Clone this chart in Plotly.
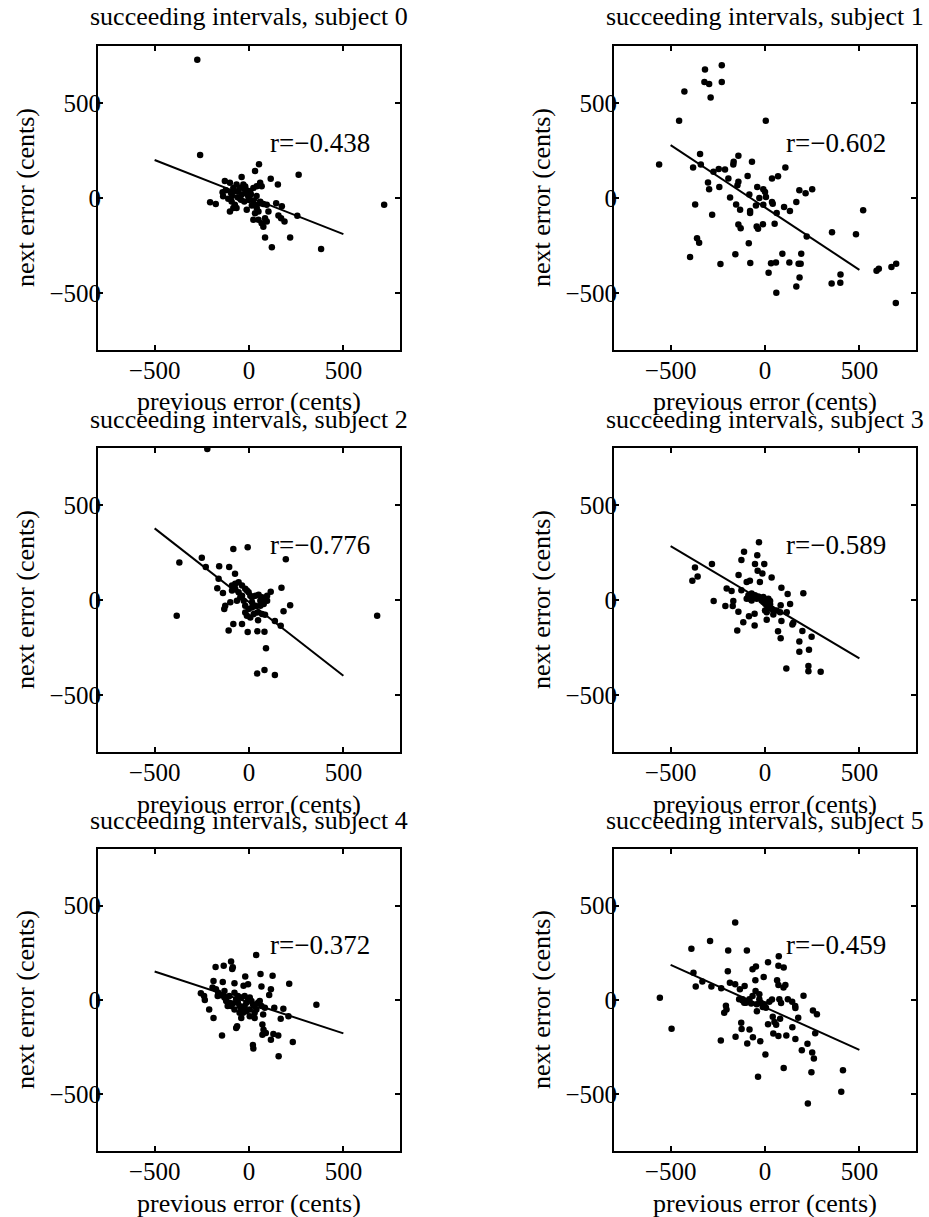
import plotly.graph_objects as go

# ---------------- data (previous error, next error) in cents ----------------
subject0 = [(-274, 728), (-259, 226), (53, 178), (32, 142), (263, 123), (115, 101), (153, 71),
            (-128, 89), (-39, 110), (-206, -23), (-176, -32), (716, -36), (256, -94), (85, -208),
            (218, -208), (121, -259), (382, -268), (144, -27), (174, -43), (156, -92), (170, -107),
            (188, -124), (103, -71), (-123, 41), (-137, 9), (-110, -4), (-92, -18), (-75, -36),
            (-83, -53), (-101, -71), (-66, -53), (-57, 36), (-48, 53), (-30, 71), (-21, 44),
            (-12, 27), (-39, 18), (-4, 9), (5, 36), (23, 53), (41, 62), (59, 80), (67, 62),
            (23, -14), (32, -36), (41, -53), (50, -71), (32, -80), (59, -27), (76, -32), (94, -36),
            (-12, -62), (23, -115), (50, -115), (67, -133), (85, -107), (76, -151), (94, -124),
            (-75, 36), (-60, 4), (-43, -9), (-25, -18), (-96, 27), (-83, 53), (-66, 71), (-101, 80),
            (-20, 60), (-10, 40), (10, 20), (-50, 0), (0, -10), (15, -40), (60, -20), (-140, 30),
            (-90, 10), (40, 10)]

subject1 = [(-229, 699), (-318, 676), (-321, 610), (-296, 600), (-229, 610), (-427, 561), (-288, 529),
            (-455, 406), (4, 406), (-561, 176), (-344, 231), (-381, 161), (-340, 176), (-273, 138),
            (-245, 152), (-212, 150), (-194, 102), (-166, 191), (-168, 176), (-141, 222), (-69, 191),
            (-92, 116), (-141, 85), (-146, 67), (-302, 81), (-296, 46), (-242, 58), (-370, -34),
            (-280, -88), (-185, 2), (-153, -34), (-132, -62), (-83, 19), (-79, -69), (-79, -79),
            (-41, 58), (-30, 0), (-9, 46), (0, 32), (5, 5), (-48, -39), (-9, -35), (37, 102),
            (69, 115), (108, 161), (37, -21), (41, -30), (62, -79), (101, -48), (132, -69), (166, -21),
            (182, 41), (215, 25), (250, 46), (-141, -139), (-129, -159), (-44, -150), (-37, -162),
            (-11, -138), (51, -136), (-360, -212), (-349, -236), (-86, -238), (221, -203), (355, -180),
            (482, -191), (520, -64), (-397, -310), (-236, -348), (-157, -296), (-78, -342), (32, -344),
            (58, -339), (92, -293), (129, -339), (178, -346), (189, -346), (192, -293), (19, -393),
            (60, -499), (166, -466), (183, -418), (353, -450), (400, -402), (399, -446), (591, -383),
            (603, -372), (670, -363), (695, -346), (693, -552)]

subject2 = [(-221, 795), (-83, 268), (-7, 278), (195, 215), (-369, 197), (-250, 222), (-229, 174),
            (-158, 177), (-105, 174), (-74, 138), (-161, 112), (-168, 62), (-138, 37), (172, 64),
            (115, 44), (218, -28), (183, -59), (-383, -83), (679, -83), (-126, -30), (-131, -48),
            (-99, -12), (-83, -126), (-108, -160), (-37, -126), (-7, -168), (44, -165), (82, -167),
            (85, -78), (48, -106), (137, -110), (168, -135), (90, -254), (43, -387), (82, -369),
            (137, -395), (-90, 76), (-73, 85), (-55, 94), (-37, 76), (-20, 59), (-11, 50), (-2, 41),
            (7, 23), (16, 14), (34, 23), (51, 27), (69, 14), (87, 5), (96, -4), (78, -21), (60, -30),
            (34, -30), (16, -39), (-2, -48), (-20, -66), (-11, -83), (7, -92), (25, -74), (43, -66),
            (69, -74), (-55, 41), (-46, 14), (-64, -4), (-28, -4), (-20, -30), (-90, 50), (-73, 59),
            (96, 23), (60, -4), (16, -12), (-37, 23)]

subject3 = [(-32, 304), (-111, 254), (-41, 235), (-125, 210), (-53, 189), (-4, 189), (-281, 189),
            (-371, 171), (-357, 124), (-385, 101), (-140, 131), (-39, 154), (-14, 140), (35, 118),
            (-97, 95), (-80, 101), (-27, 95), (-272, -5), (-210, -32), (-171, -32), (-168, -5),
            (-203, 60), (-177, 48), (-125, 51), (-141, -62), (-115, -117), (-85, -85), (-55, -72),
            (-55, -134), (-147, -161), (9, -104), (44, -76), (83, -28), (87, 64), (120, 32),
            (133, -21), (115, -64), (87, -111), (145, -129), (150, -120), (198, -163), (247, -194),
            (69, -164), (83, -201), (182, -219), (182, -272), (233, -262), (113, -360), (230, -348),
            (230, -375), (295, -378), (203, 35), (-88, 25), (-80, 7), (-71, -2), (-62, 19), (-53, 25),
            (-44, 7), (-35, 19), (-27, 12), (-18, -2), (-9, -11), (0, -19), (9, -28), (18, -37),
            (27, -23), (35, -46), (44, -55), (9, -2), (-9, 16), (18, 7), (27, -5), (0, -55), (9, -64),
            (-71, 34), (-97, 7), (62, -55), (80, -64)]

subject4 = [(38, 239), (-177, 175), (-134, 182), (-95, 204), (-86, 173), (-89, 164), (61, 138),
            (125, 129), (-20, 125), (213, 86), (357, -25), (-188, 100), (-139, 96), (-77, 89),
            (-29, 75), (-5, 84), (66, 71), (116, 57), (107, 27), (-255, 36), (-238, 21), (-234, 0),
            (-211, -50), (-188, -95), (-143, -188), (-63, -139), (-68, -148), (-41, -95), (4, -86),
            (30, -95), (75, -77), (134, -41), (182, -46), (168, -100), (209, -86), (71, -130),
            (77, -157), (71, -184), (89, -175), (116, -211), (129, -180), (155, -188), (232, -223),
            (21, -238), (23, -257), (157, -298), (-193, 66), (-175, 57), (-163, 39), (-148, 25),
            (-130, 13), (-121, -5), (-104, -14), (-95, -32), (-86, -18), (-68, 4), (-59, -14),
            (-50, -32), (-41, -50), (-32, -68), (-23, -32), (-14, -14), (-5, 4), (4, 13), (13, -5),
            (21, -23), (30, -32), (39, -50), (48, -14), (57, -5), (66, -32), (84, -41), (-41, 13),
            (-23, 21), (-59, 21), (-77, 39), (-104, 21), (-130, 48), (-166, 21), (4, -50), (30, -68),
            (-14, -59), (-50, -68), (-77, -50), (-113, -32)]

subject5 = [(-158, 410), (-291, 312), (-390, 271), (-195, 262), (-96, 262), (73, 232), (16, 200),
            (-48, 177), (71, 181), (99, 172), (-66, 163), (-197, 152), (-379, 145), (-332, 98),
            (-367, 71), (-284, 71), (-232, 62), (-186, 92), (-158, 83), (-133, 57), (-108, 74),
            (-51, 105), (-7, 122), (64, 105), (71, 80), (108, 80), (98, 66), (-557, 12), (204, 23),
            (-50, 48), (-30, 30), (-73, -18), (-101, -14), (-119, -2), (-44, -23), (-43, -59),
            (-4, -23), (5, -41), (37, 2), (76, 4), (85, -16), (121, 4), (144, -9), (160, -32),
            (161, -43), (254, -55), (275, -76), (-207, -30), (-204, -50), (-216, -67), (41, -89),
            (50, -117), (59, -131), (80, -99), (16, -129), (176, -94), (145, -144), (266, -176),
            (-495, -152), (-126, -121), (-124, -154), (-82, -156), (-156, -195), (-64, -197),
            (-25, -218), (-94, -230), (-234, -215), (44, -177), (71, -191), (113, -188), (161, -206),
            (225, -232), (195, -266), (250, -278), (259, -310), (2, -289), (99, -360), (246, -383),
            (413, -372), (-37, -406), (404, -486), (227, -548), (-83, 4), (-66, 21), (-30, 4),
            (-21, -14), (-12, -37), (23, -9), (-119, 4), (-110, -14), (-137, 4)]

subjects = [subject0, subject1, subject2, subject3, subject4, subject5]
subject_ids = [0, 1, 2, 3, 4, 5]
r_values = [-0.438, -0.602, -0.776, -0.589, -0.372, -0.459]
fit_x = [-500, 500]
fit_y = [[200, -190], [278, -378], [377, -399], [283, -307], [151, -177], [186, -264]]
tick_vals = [-500, 0, 500]
axis_range = [-800, 800]

title_text = "succeeding intervals, subject {}"
xlabel_text = "previous error (cents)"
ylabel_text = "next error (cents)"

# ---------------- layout / style ----------------
W, H = 929, 1217
FONT = "Liberation Serif"
col_px = [(98, 400), (614, 916)]
row_px = [(46, 350), (448, 752), (849, 1151)]
R_TEXT_POS = (100, 290)


def px_x(p):
    return p / W


def px_y(p):
    return 1 - p / H


fig = go.Figure()
annotations = []
for i, pts in enumerate(subjects):
    r, c = divmod(i, 2)
    suf = "" if i == 0 else str(i + 1)
    xs = [p[0] for p in pts]
    ys = [p[1] for p in pts]
    fig.add_trace(go.Scatter(x=xs, y=ys, mode="markers",
                             marker=dict(color="black", size=6.5, line=dict(width=0)),
                             xaxis="x" + suf, yaxis="y" + suf, showlegend=False,
                             hoverinfo="skip"))
    fig.add_trace(go.Scatter(x=fit_x, y=fit_y[i], mode="lines",
                             line=dict(color="black", width=2),
                             xaxis="x" + suf, yaxis="y" + suf, showlegend=False,
                             hoverinfo="skip"))
    x0, x1 = col_px[c]
    y0, y1 = row_px[r]
    common = dict(range=axis_range, tickvals=tick_vals, ticks="inside", ticklen=5,
                  tickwidth=1.5, tickcolor="black", showline=True, linecolor="black",
                  linewidth=2, mirror="ticks", showgrid=False, zeroline=False,
                  tickfont=dict(family=FONT, size=25, color="black"), fixedrange=True)
    fig.layout["xaxis" + suf] = dict(domain=[px_x(x0), px_x(x1)], anchor="y" + suf,
                                     ticklabelstandoff=-3, **common)
    fig.layout["yaxis" + suf] = dict(domain=[px_y(y1), px_y(y0)], anchor="x" + suf,
                                     ticklabelstandoff=-10, **common)
    cx = (x0 + x1) / 2
    cy = (y0 + y1) / 2
    annotations.append(dict(text=title_text.format(subject_ids[i]), x=px_x(cx), y=px_y(y0 - 29),
                            xref="paper", yref="paper", xanchor="center", yanchor="middle",
                            showarrow=False, font=dict(family=FONT, size=26, color="black")))
    annotations.append(dict(text=xlabel_text, x=px_x(cx), y=px_y(y1 + 52),
                            xref="paper", yref="paper", xanchor="center", yanchor="middle",
                            showarrow=False, font=dict(family=FONT, size=26, color="black")))
    annotations.append(dict(text=ylabel_text, x=px_x(x0 - 73), y=px_y(cy), textangle=-90,
                            xref="paper", yref="paper", xanchor="center", yanchor="middle",
                            showarrow=False, font=dict(family=FONT, size=26, color="black")))
    annotations.append(dict(text="r=" + f"{r_values[i]:.3f}".replace("-", "\u2212"),
                            x=R_TEXT_POS[0], y=R_TEXT_POS[1], xref="x" + suf, yref="y" + suf,
                            xanchor="left", yanchor="middle", showarrow=False,
                            font=dict(family=FONT, size=27, color="black")))

fig.update_layout(width=W, height=H, margin=dict(l=0, r=0, t=0, b=0),
                  paper_bgcolor="white", plot_bgcolor="white",
                  annotations=annotations, showlegend=False)

fig.write_html("out.html", config={"displayModeBar": False})
